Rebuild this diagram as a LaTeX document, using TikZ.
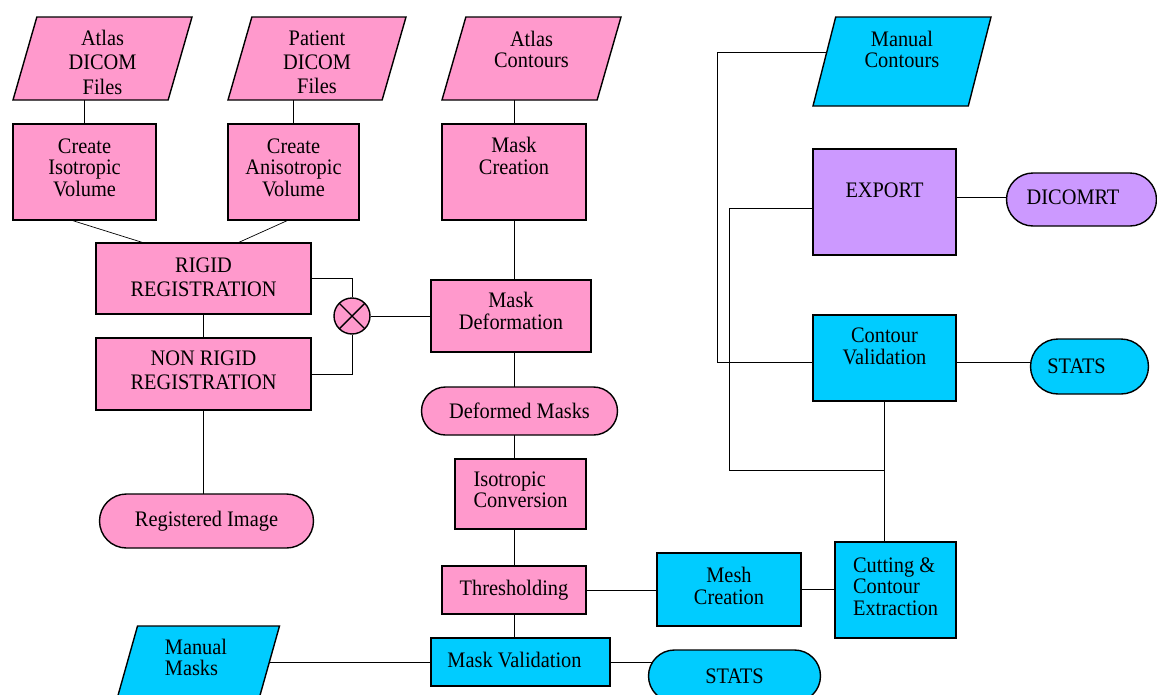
\documentclass[tikz,border=0pt]{standalone}
\usepackage{fontspec}
\setmainfont{Liberation Serif}[FakeStretch=0.92]
\usepackage{xcolor}
\usetikzlibrary{positioning, calc, shapes.geometric, shapes.misc, backgrounds}
\definecolor{flowpink}{HTML}{FF99CC}
\definecolor{flowcyan}{HTML}{00CCFF}
\definecolor{flowpurple}{HTML}{CC99FF}
% text lifted inside a box; the slanted version keeps a tall text box for the trapezium
\newcommand{\boxtxt}[3][c]{\raisebox{\dimexpr#2-5pt\relax}[0pt][0pt]{\begin{tabular}{@{}#1@{}}#3\end{tabular}}}
\newcommand{\slanttxt}[3][c]{\raisebox{\dimexpr#2-5pt\relax}[14pt][14pt]{\begin{tabular}{@{}#1@{}}#3\end{tabular}}}
\tikzset{
  base/.style={draw, line width=0.8pt, inner sep=2pt, font=\fontsize{12.6}{12.2}\selectfont},
  sz/.style 2 args={minimum width=#1*0.02cm, minimum height=#2*0.02cm},
  proc/.style={base, rectangle},
  datain/.style={base, trapezium, trapezium left angle=#1, trapezium right angle={180-#1}, trapezium stretches body},
  term/.style={base, rounded rectangle},
  joint/.style={draw, line width=0.8pt, circle, fill=flowpink, minimum size=0.72cm, inner sep=0pt,
    path picture={\draw[line width=0.8pt] (path picture bounding box.south west) -- (path picture bounding box.north east)
      (path picture bounding box.north west) -- (path picture bounding box.south east);}},
  link/.style={line width=0.7pt}
}
\begin{document}
\begin{tikzpicture}[x=0.02cm, y=-0.02cm]
\useasboundingbox (0,0) rectangle (1157,694);
\clip (0,0) rectangle (1157,694);
% inputs
\node[datain=67, fill=flowpink, sz={179}{83}] (atlasdcm) at (102.5,58.5) {\slanttxt{-2pt}{Atlas\\[1.4pt]DICOM\\[1.4pt]Files}};
\node[datain=67, fill=flowpink, sz={178}{83}] (patdcm) at (317,58.5) {\slanttxt{-2pt}{Patient\\[1.4pt]DICOM\\[1.4pt]Files}};
\node[datain=67, fill=flowpink, sz={179}{83}] (atlascnt) at (531.5,58.5) {\slanttxt{5.4pt}{Atlas\\Contours}};
\node[datain=68, fill=flowcyan, sz={178}{89}] (manualcnt) at (902,61.5) {\slanttxt{7.1pt}{Manual\\Contours}};
% registration branch
\node[proc, fill=flowpink, sz={143}{96}] (isovol) at (84.5,172) {\boxtxt{2.8pt}{Create\\Isotropic\\Volume}};
\node[proc, fill=flowpink, sz={131}{96}] (anisovol) at (293.5,172) {\boxtxt{2.8pt}{Create\\Anisotropic\\Volume}};
\node[proc, fill=flowpink, sz={144}{96}] (maskcre) at (514,172) {\boxtxt{9.4pt}{Mask\\Creation}};
\node[proc, fill=flowpink, sz={215}{71}] (rigid) at (203.5,278.5) {\boxtxt{0.8pt}{RIGID\\[1.4pt]REGISTRATION}};
\node[proc, fill=flowpink, sz={215}{72}] (nonrigid) at (203.5,374) {\boxtxt{2.3pt}{NON RIGID\\[1.4pt]REGISTRATION}};
\node[joint] (mix) at (352,316) {};
\node[proc, fill=flowpink, sz={160}{72}] (maskdef) at (511,316) {\boxtxt{3.1pt}{Mask\\Deformation}};
\node[term, fill=flowpink, sz={203}{48}] (defmask) at (519.5,411) {Deformed Masks};
\node[proc, fill=flowpink, sz={131}{70}] (isoconv) at (520.5,494) {\boxtxt[l]{2.8pt}{Isotropic\\Conversion}};
\node[term, fill=flowpink, sz={221}{54}] (regimg) at (206.5,521) {Registered Image};
\node[proc, fill=flowpink, sz={144}{48}] (thresh) at (514,590) {\boxtxt{1.7pt}{Thresholding}};
% validation
\node[proc, fill=flowcyan, sz={179}{48}] (maskval) at (520.5,662) {\boxtxt{1.7pt}{Mask Validation}\hspace*{6.8pt}};
\node[term, fill=flowcyan, sz={179}{52}] (stats1) at (734.5,676) {STATS};
\node[datain=66, fill=flowcyan, sz={167}{89}] (manmask) at (196,670.5) {\slanttxt[l]{7.7pt}{Manual\\Masks}};
\node[proc, fill=flowcyan, sz={144}{73}] (meshcre) at (729,589.5) {\boxtxt{2.3pt}{Mesh\\Creation}};
\node[proc, fill=flowcyan, sz={121}{96}] (cutting) at (895.5,590) {\boxtxt[l]{2.3pt}{Cutting \&\\Contour\\Extraction}};
\node[proc, fill=flowcyan, sz={143}{86}] (conval) at (884.5,358) {\boxtxt{7pt}{Contour\\Validation}};
\node[term, fill=flowcyan, sz={125}{55}] (stats2) at (1089.5,366.5) {STATS\hspace*{14.7pt}};
% export
\node[proc, fill=flowpurple, sz={143}{106}] (export) at (884.5,202) {\boxtxt{6.8pt}{EXPORT}};
\node[term, fill=flowpurple, sz={157}{53}] (dicomrt) at (1081.5,199.5) {\boxtxt{1.4pt}{DICOMRT}\hspace*{9.6pt}};
\coordinate (mcbend) at (717,362.5);
\coordinate (exbend) at (729,470);
\begin{scope}[on background layer, link]
  \draw (isovol) -- (isovol |- atlasdcm);
  \draw (anisovol) -- (anisovol |- patdcm);
  \draw (maskcre) -- (maskcre |- atlascnt);
  \draw ($(isovol.south)+(-11.5,0)$) -- ($(rigid.north)+(-61.5,0)$);
  \draw ($(anisovol.south)+(-6.5,0)$) -- ($(rigid.north)+(35.5,0)$);
  \draw (rigid) -- (nonrigid);
  \draw (nonrigid) -- (nonrigid |- regimg);
  \draw (rigid.east) -| (mix);
  \draw (nonrigid.east) -| (mix);
  \draw (mix) -- (maskdef);
  \foreach \a/\b in {maskcre/maskdef, maskdef/defmask, defmask/isoconv, isoconv/thresh, thresh/maskval}
    \draw (maskcre |- \a) -- (maskcre |- \b);
  \draw (thresh) -- (thresh -| meshcre);
  \draw (meshcre) -- (meshcre -| cutting);
  \draw (conval) -- (conval |- cutting);
  \draw (exbend -| conval) -- (exbend) |- ($(export)+(0,6)$);
  \draw ($(manualcnt)+(0,-9.5)$) -| (mcbend) -- (mcbend -| conval);
  \draw (mcbend -| conval) -- (mcbend -| stats2);
  \draw ($(export)+(0,-5)$) -- ($(export -| dicomrt)+(0,-5)$);
  \draw (maskval) -- (maskval -| manmask);
  \draw (maskval) -- (maskval -| stats1);
\end{scope}
\end{tikzpicture}
\end{document}
